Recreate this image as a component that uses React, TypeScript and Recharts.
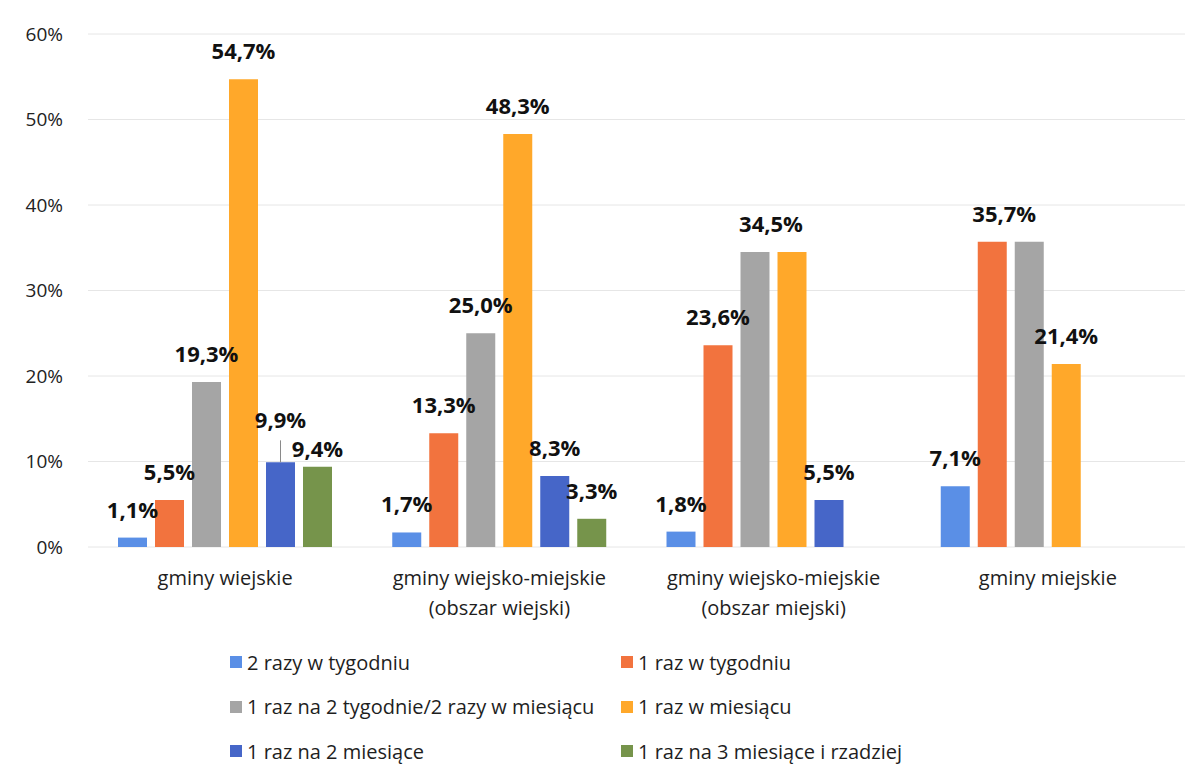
import { BarChart, Bar, XAxis, YAxis, CartesianGrid, LabelList } from "recharts";

const categories = [
  "gminy wiejskie",
  "gminy wiejsko-miejskie\n(obszar wiejski)",
  "gminy wiejsko-miejskie\n(obszar miejski)",
  "gminy miejskie",
];

const seriesNames = [
  "2 razy w tygodniu",
  "1 raz w tygodniu",
  "1 raz na 2 tygodnie/2 razy w miesiącu",
  "1 raz w miesiącu",
  "1 raz na 2 miesiące",
  "1 raz na 3 miesiące i rzadziej",
];

const twiceWeekly = [1.1, 1.7, 1.8, 7.1];
const onceWeekly = [5.5, 13.3, 23.6, 35.7];
const everyTwoWeeks = [19.3, 25.0, 34.5, 35.7];
const onceMonthly = [54.7, 48.3, 34.5, 21.4];
const everyTwoMonths = [9.9, 8.3, 5.5, null];
const everyThreeMonths = [9.4, 3.3, null, null];

const yTicks = [0, 10, 20, 30, 40, 50, 60];

const seriesValues = [twiceWeekly, onceWeekly, everyTwoWeeks, onceMonthly, everyTwoMonths, everyThreeMonths];
const colors = ["#5a8fe6", "#f2733e", "#a5a5a5", "#ffa82a", "#4666c8", "#76944b"];

const data = categories.map((name, i) => {
  const row: any = { name };
  seriesValues.forEach((vals, s) => {
    row[`s${s}`] = vals[i];
  });
  return row;
});

// manual label tweaks from the original (key = series-category)
type Adj = { dx?: number; off?: number; hide?: boolean; leader?: number };
const labelAdjust: Record<string, Adj> = {
  "2-2": { dx: 16 },
  "3-2": { hide: true },
  "1-3": { dx: 12 },
  "2-3": { hide: true },
  "4-0": { off: 34, leader: 22 },
  "5-0": { off: 10 },
};

const FONT = "'Open Sans', sans-serif";

const fmt = (v: number) => v.toFixed(1).replace(".", ",") + "%";

const makeLabel = (s: number) => (props: any) => {
  const { x, y, width, value, index } = props;
  if (value === null || value === undefined) return null;
  const adj = labelAdjust[`${s}-${index}`] || {};
  if (adj.hide) return null;
  const cx = x + width / 2 + (adj.dx || 0);
  const off = adj.off ?? 20;
  return (
    <g>
      {adj.leader ? <line x1={cx} x2={cx} y1={y} y2={y - adj.leader} stroke="#8a8a8a" strokeWidth={1} /> : null}
      <text x={cx} y={y - off} textAnchor="middle" fontFamily={FONT} fontWeight={700} fontSize={22} fill="#111">
        {fmt(value)}
      </text>
    </g>
  );
};

const CategoryTick = (props: any) => {
  const { x, y, payload } = props;
  const lines = String(payload.value).split("\n");
  return (
    <text x={x} y={y} textAnchor="middle" fontFamily={FONT} fontSize={20} fill="#1e1e1e">
      {lines.map((l, i) => (
        <tspan key={i} x={x} dy={30}>
          {l}
        </tspan>
      ))}
    </text>
  );
};

export default function App() {
  return (
    <div style={{ position: "absolute", left: 0, top: 0, width: 1203, height: 778, background: "#fff" }}>
      <BarChart
        width={1203}
        height={778}
        data={data}
        margin={{ top: 34, right: 18, left: 28, bottom: 171 }}
        barSize={29}
        barGap={8}
      >
        <CartesianGrid vertical={false} stroke="#e6e6e6" />
        <XAxis
          dataKey="name"
          axisLine={false}
          tickLine={false}
          height={60}
          interval={0}
          tick={<CategoryTick />}
        />
        <YAxis
          domain={[0, 60]}
          ticks={yTicks}
          width={60}
          axisLine={false}
          tickLine={false}
          tickMargin={19}
          tickFormatter={(v: number) => `${v}%`}
          tick={{ fontFamily: FONT, fontSize: 19, fill: "#222" }}
        />
        {seriesNames.map((n, s) => (
          <Bar key={n} dataKey={`s${s}`} name={n} fill={colors[s]} isAnimationActive={false}>
            <LabelList dataKey={`s${s}`} content={makeLabel(s)} />
          </Bar>
        ))}
      </BarChart>
      {seriesNames.map((n, i) => {
        const col = i % 2;
        const row = Math.floor(i / 2);
        return (
          <div
            key={n}
            style={{
              position: "absolute",
              left: col === 0 ? 230 : 621,
              top: 662 + row * 44.5 - 14,
              height: 28,
              display: "flex",
              alignItems: "center",
              fontFamily: FONT,
              fontSize: 20,
              color: "#1e1e1e",
              whiteSpace: "nowrap",
            }}
          >
            <span style={{ display: "inline-block", width: 12, height: 12, background: colors[i], marginRight: 5 }} />
            {n}
          </div>
        );
      })}
    </div>
  );
}
